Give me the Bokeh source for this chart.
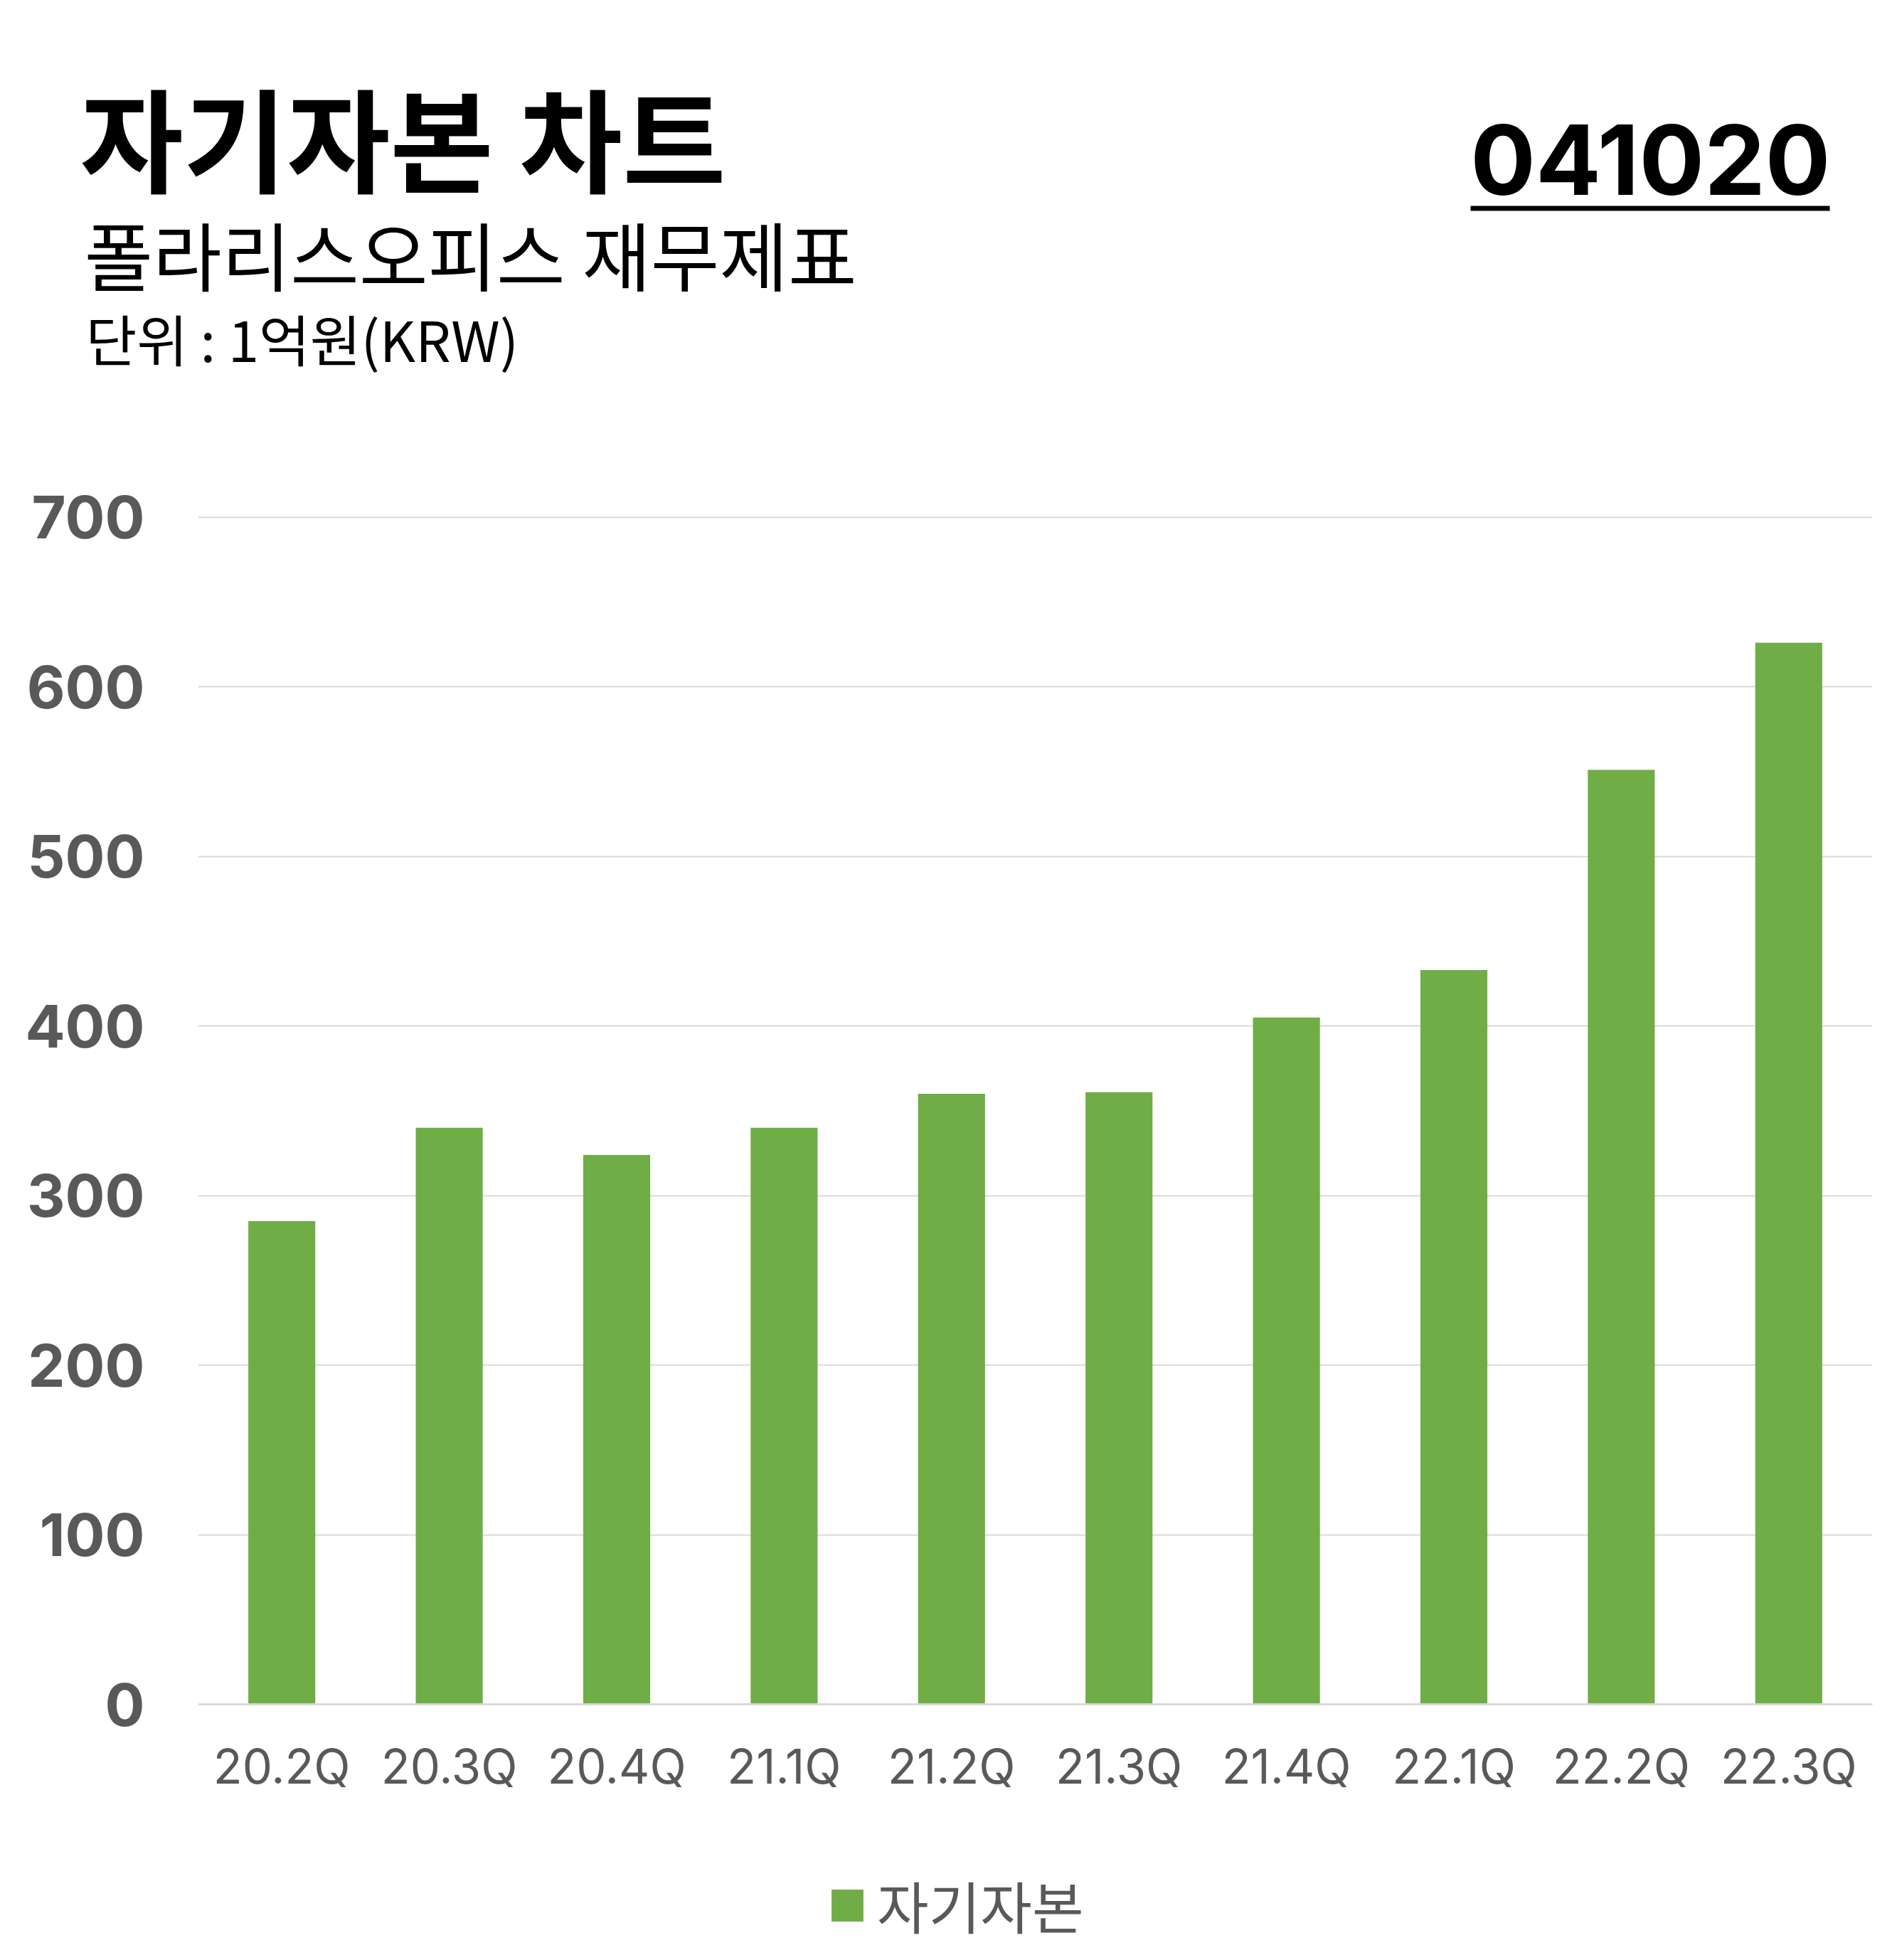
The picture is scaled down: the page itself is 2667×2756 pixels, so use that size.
from bokeh.plotting import figure
from bokeh.models import (ColumnDataSource, Range1d, FactorRange, FixedTicker, Label,
                          BoxAnnotation, Legend, LegendItem)
from bokeh.layouts import column
from bokeh.embed import file_html
from bokeh.resources import INLINE

# ---- data ----
quarters = ["20.2Q", "20.3Q", "20.4Q", "21.1Q", "21.2Q", "21.3Q", "21.4Q", "22.1Q", "22.2Q", "22.3Q"]
equity = [285, 340, 324, 340, 360, 361, 405, 433, 551, 626]
y_ticks = [0, 100, 200, 300, 400, 500, 600, 700]
series_name = "자기자본"
title_text = "자기자본 차트"
subtitle_text = "폴라리스오피스 재무제표"
unit_text = "단위 : 1억원(KRW)"
code_text = "041020"

GREEN = "#70AD47"
GREY = "#595959"
GRID = "#D9D9D9"
KR = "Noto Sans CJK KR"
LAT = "Inter"

W = 2651
FL, FR = 278, 19          # chart frame left / right borders
HH = 668                  # header height
HC = 1954                 # chart height
HF = 2740 - HH - HC       # footer height

src = ColumnDataSource(dict(q=quarters, v=equity))

# ---------- header ----------
h = figure(width=W, height=HH, x_range=Range1d(0, W), y_range=Range1d(HH, 0),
           output_backend="svg", toolbar_location=None, frame_align=False,
           x_axis_location=None, y_axis_location=None,
           min_border_left=0, min_border_right=0, min_border_top=0, min_border_bottom=0)
h.grid.visible = False
h.outline_line_color = None

h.add_layout(Label(x=112, y=190, text=title_text,
                   text_font=KR, text_font_style="bold", text_font_size="158px",
                   text_color="black", text_baseline="middle", text_align="left"))
h.add_layout(Label(x=118, y=354, text=subtitle_text,
                   text_font=KR, text_font_size="105px",
                   text_color="black", text_baseline="middle", text_align="left"))
h.add_layout(Label(x=120, y=474, text=unit_text,
                   text_font=KR, text_font_size="78px",
                   text_color="black", text_baseline="middle", text_align="left"))
h.add_layout(Label(x=2573, y=224, text=code_text,
                   text_font=LAT, text_font_style="bold", text_font_size="136px",
                   text_color="black", text_baseline="middle", text_align="right"))
h.add_layout(BoxAnnotation(left=2067, right=2572, top=289, bottom=296,
                           fill_color="black", fill_alpha=1.0, line_color=None))

# ---------- chart ----------
p = figure(width=W, height=HC, x_range=FactorRange(*quarters, range_padding=0),
           y_range=Range1d(0, 702), output_backend="svg", toolbar_location=None,
           frame_align=False,
           min_border_left=FL, min_border_right=FR, min_border_top=54,
           min_border_bottom=HC - 54 - 1674)
p.outline_line_color = None

p.vbar(x="q", top="v", width=0.40, source=src, fill_color=GREEN, line_color=None)

p.yaxis.ticker = FixedTicker(ticks=y_ticks)
p.yaxis.axis_line_color = None
p.yaxis.major_tick_line_color = None
p.yaxis.minor_tick_line_color = None
p.yaxis.major_tick_out = 0
p.yaxis.major_label_standoff = 75
p.yaxis.major_label_text_font = LAT
p.yaxis.major_label_text_font_style = "bold"
p.yaxis.major_label_text_font_size = "83px"
p.yaxis.major_label_text_color = GREY

p.xaxis.axis_line_color = GRID
p.xaxis.axis_line_width = 3
p.xaxis.major_tick_line_color = None
p.xaxis.minor_tick_line_color = None
p.xaxis.major_tick_out = 0
p.xaxis.major_label_standoff = 46
p.xaxis.major_label_text_font = LAT
p.xaxis.major_label_text_font_size = "67px"
p.xaxis.major_label_text_color = GREY

p.xgrid.grid_line_color = None
p.ygrid.ticker = FixedTicker(ticks=y_ticks)
p.ygrid.grid_line_color = GRID
p.ygrid.grid_line_width = 2

# ---------- footer (legend) ----------
f = figure(width=W, height=HF, x_range=FactorRange(*quarters), y_range=Range1d(-2, -1),
           output_backend="svg", toolbar_location=None, frame_align=False,
           x_axis_location=None, y_axis_location=None,
           min_border_left=0, min_border_right=0, min_border_top=0, min_border_bottom=0)
f.grid.visible = False
f.outline_line_color = None
# legend key renderer (same data, not drawn itself)
key = f.vbar(x="q", top="v", width=0.40, source=src, fill_color=GREEN, line_color=None)
key.visible = False
legend = Legend(items=[LegendItem(label=series_name, renderers=[key])],
                location=(1163, 4), orientation="horizontal", click_policy="none",
                glyph_width=56, glyph_height=56, label_height=56,
                label_standoff=14, padding=0, margin=0, spacing=0,
                label_text_font=KR, label_text_font_size="79px", label_text_color=GREY,
                border_line_color=None, background_fill_alpha=0)
f.add_layout(legend, "center")

layout = column(h, p, f, spacing=0)
open("out.html", "w").write(file_html(layout, INLINE))
